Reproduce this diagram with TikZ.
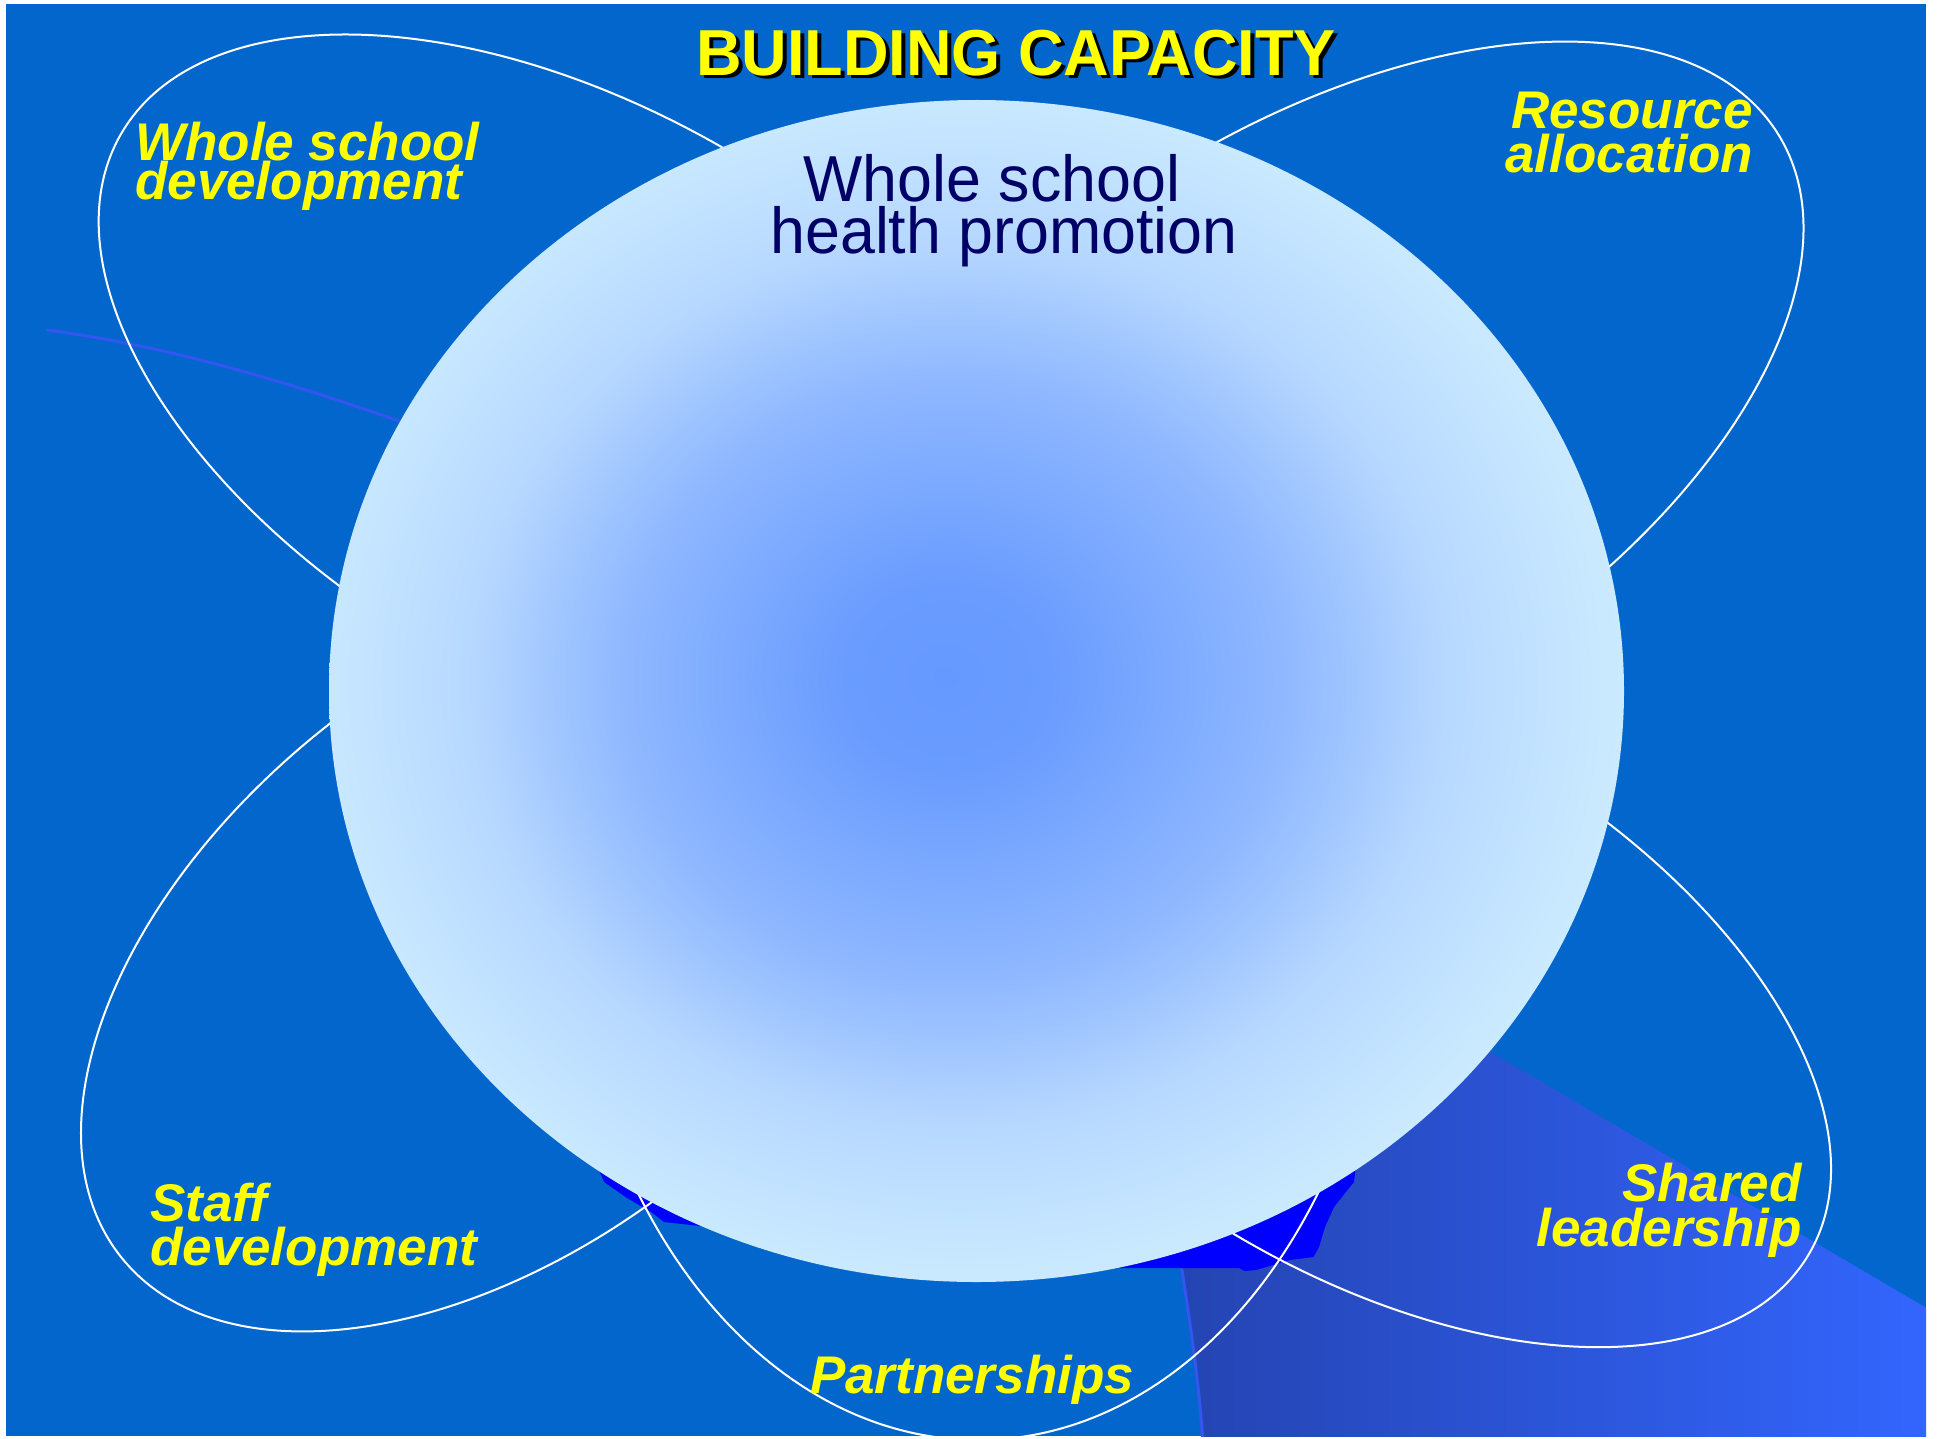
\documentclass[tikz,border=0pt]{standalone}
\usepackage{fontspec}
\setmainfont{Liberation Sans}
\newfontfamily\titlefont[FakeStretch=0.97]{Liberation Sans}
\newfontfamily\centrefont[FakeStretch=0.965]{Liberation Sans}
\definecolor{bgblue}{RGB}{3,102,204}
\definecolor{regleft}{RGB}{36,68,178}
\definecolor{regright}{RGB}{51,102,255}
\definecolor{arcblue}{RGB}{51,85,240}
\definecolor{blobblue}{RGB}{0,0,255}
\definecolor{labelyellow}{RGB}{255,255,0}
\definecolor{navy}{RGB}{0,0,102}
\pgfdeclareradialshading{globe}{\pgfpoint{-1.2bp}{0.6bp}}{rgb(0bp)=(0.4,0.6,1); rgb(4bp)=(0.416,0.612,1); rgb(12.7bp)=(0.56,0.72,1); rgb(19bp)=(0.72,0.85,1); rgb(25bp)=(0.79,0.915,1); rgb(30bp)=(0.8,0.925,1); rgb(50bp)=(0.8,0.925,1)}
\tikzset{
  petal/.style={draw=white, line width=2pt},
  decoarc/.style={draw=arcblue, line width=3pt},
  blob/.style={fill=blobblue},
  lbl/.style={text=labelyellow, inner sep=0pt},
  ctext/.style={text=navy, inner sep=0pt},
  ttl/.style={font=\titlefont\fontsize{65}{75}\selectfont\bfseries, inner sep=0pt},
}
\newcommand{\lblfont}[1]{\fontsize{53}{#1}\selectfont\bfseries\itshape}
\begin{document}
\begin{tikzpicture}[x=1pt,y=-1pt]
\useasboundingbox (0,0) rectangle (1938,1439);
\fill[white] (0,0) rectangle (1938,1439);
\fill[bgblue] (6,4) rectangle (1926,1436);
\begin{scope}
  \clip (6,4) rectangle (1926,1436);
  % lighter wedge bottom right
  \shade[left color=regleft, right color=regright]
    (1178,1245) .. controls (1190,1320) and (1200,1390) .. (1203,1445)
    -- (1935,1445) -- (1935,1313) -- (1300,940) -- cycle;
  \draw[decoarc] (1178,1245) .. controls (1190,1320) and (1200,1390) .. (1203,1445);
  \draw[decoarc, line cap=round] (47,330) .. controls (175,347) and (302,386) .. (430,432);
  % shadow blobs
  \fill[blob] (640,1150) -- (596,1165) -- (602,1177) -- (604,1182) -- (627,1198)
    -- (651,1212) -- (664,1222) -- (700,1226) -- (760,1236) -- cycle;
  \fill[blob] (1250,1200) -- (1356,1165) -- (1354,1182) -- (1345,1193) -- (1334,1207)
    -- (1325,1227) -- (1319,1247) -- (1313.5,1257) -- (1290,1260) -- (1256,1270)
    -- (1245,1271) -- (1239,1268) -- (1110,1268) -- (1100,1255) -- cycle;
  \fill[blob] (1300,1205) -- (1304,1191) -- (1308,1188) -- (1319,1190) -- (1322,1193)
    -- (1318,1205) -- cycle;
  % petals
  \draw[petal, rotate around={-30:(580,399)}] (580,399) ellipse [x radius=530, y radius=289];
  \draw[petal, rotate around={32:(1320,420)}] (1320,420) ellipse [x radius=540, y radius=292];
  \draw[petal, rotate around={38.4:(504,953)}] (504,953) ellipse [x radius=489, y radius=288];
  \draw[petal, rotate around={-30.65:(1376,998)}] (1376,998) ellipse [x radius=503, y radius=275.5];
  \draw[petal] (978,880) ellipse [x radius=410, y radius=560];
  % central globe
  \shade[shading=globe] (976.5,691) ellipse [x radius=647.5, y radius=591];
\end{scope}
% title with drop shadow
\node[ttl, text=labelyellow, anchor=base] (title) at (1016,76)
  {\rlap{\kern4pt\raisebox{-3pt}{\color{black}BUILDING CAPACITY}}BUILDING CAPACITY};
% centre text (base anchor = baseline of last line)
\node[ctext, align=center, anchor=base, font=\centrefont\fontsize{65}{51.6}\selectfont] (centre) at (1004,253.3)
  {Whole school\hspace*{24pt}\\health promotion};
% petal labels
\node[lbl, align=left, anchor=base west, font=\lblfont{38.3}] (wsd) at (135,200) {Whole school\\development};
\node[lbl, align=right, anchor=base east, font=\lblfont{43.5}] (ra) at (1753,172.5) {Resource\\allocation};
\node[lbl, align=left, anchor=base west, font=\lblfont{43.9}] (sd) at (150,1265.6) {Staff\\development};
\node[lbl, align=right, anchor=base east, font=\lblfont{44.3}] (sl) at (1802,1246) {Shared\\leadership};
\node[lbl, anchor=base, font=\lblfont{60}] (pp) at (972,1393) {Partnerships};
\end{tikzpicture}
\end{document}
